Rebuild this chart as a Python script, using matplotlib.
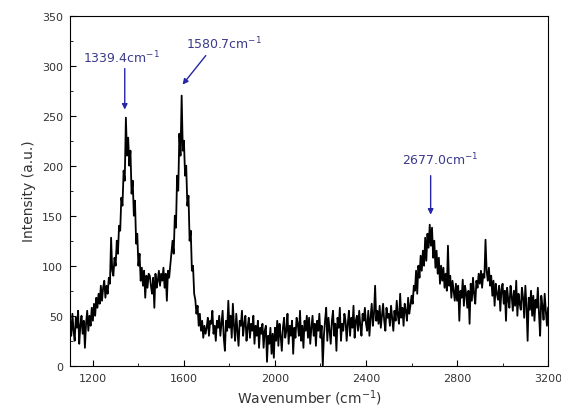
import numpy as np
import matplotlib
matplotlib.use("Agg")
import matplotlib.pyplot as plt
from matplotlib.ticker import MultipleLocator

# Raman spectrum, one value every 5 cm-1
wn_start, wn_step = 1100, 5
intensity = [
    45, 30, 52, 35, 25, 48, 38, 55, 22, 40,        # 1100
    50, 32, 45, 18, 42, 55, 35, 50, 40, 58,        # 1150
    45, 62, 50, 68, 58, 72, 62, 80, 65, 78,        # 1200
    85, 68, 80, 72, 88, 82, 128, 95, 90, 108,      # 1250
    100, 125, 112, 140, 135, 168, 160, 195, 185, 248,  # 1300
    210, 228, 200, 215, 172, 185, 150, 165, 122, 132,  # 1350
    100, 112, 85, 98, 80, 95, 68, 90, 78, 92,      # 1400
    90, 80, 72, 88, 58, 92, 78, 85, 95, 80,        # 1450
    92, 85, 98, 78, 92, 65, 95, 88, 100, 112,      # 1500
    125, 112, 150, 138, 190, 175, 232, 210, 270, 215,  # 1550
    225, 190, 200, 160, 170, 125, 135, 95, 100, 72,    # 1600
    66, 52, 60, 40, 52, 35, 45, 28, 40, 32,        # 1650
    38, 48, 30, 45, 42, 55, 32, 40, 25, 45,        # 1700
    38, 50, 30, 42, 55, 28, 15, 45, 35, 65,        # 1750
    38, 50, 28, 62, 40, 25, 52, 35, 20, 45,        # 1800
    40, 55, 30, 42, 50, 25, 38, 48, 28, 42,        # 1850
    35, 50, 22, 40, 30, 45, 18, 38, 32, 42,        # 1900
    18, 35, 40, 4, 30, 22, 38, 12, 32, 8,          # 1950
    38, 25, 45, 20, 42, 30, 15, 38, 48, 28,        # 2000
    35, 52, 22, 40, 30, 45, 12, 38, 28, 48,        # 2050
    42, 30, 55, 25, 40, 18, 45, 35, 50, 28,        # 2100
    48, 22, 38, 50, 30, 42, 20, 45, 35, 52,        # 2150
    28, 40, 0, 30, 45, 58, 25, 48, 35, 22,         # 2200
    45, 55, 30, 42, 15, 48, 38, 58, 25, 42,        # 2250
    35, 52, 45, 25, 42, 55, 30, 48, 38, 60,        # 2300
    28, 45, 50, 35, 55, 40, 30, 52, 45, 58,        # 2350
    42, 35, 55, 30, 48, 62, 40, 52, 80, 45,        # 2400
    55, 42, 60, 38, 50, 62, 45, 35, 58, 48,        # 2450
    52, 40, 60, 48, 35, 55, 45, 65, 50, 42,        # 2500
    72, 48, 58, 40, 62, 55, 45, 68, 52, 60,        # 2550
    70, 62, 80, 75, 95, 72, 100, 88, 110, 95,      # 2600
    115, 100, 128, 105, 132, 118, 141, 120, 138, 108,  # 2650
    125, 98, 115, 92, 108, 82, 100, 85, 98, 78,        # 2700
    92, 75, 120, 80, 90, 68, 85, 75, 65, 82,       # 2750
    65, 80, 45, 75, 68, 86, 60, 80, 72, 58,        # 2800
    75, 42, 82, 65, 88, 72, 62, 85, 78, 92,        # 2850
    82, 95, 78, 92, 88, 126, 95, 85, 98, 80,       # 2900
    90, 70, 85, 60, 82, 72, 66, 80, 55, 76,        # 2950
    82, 62, 75, 45, 78, 66, 58, 80, 70, 55,        # 3000
    75, 60, 85, 50, 72, 62, 56, 78, 68, 48,        # 3050
    80, 60, 25, 68, 56, 75, 50, 70, 45, 66,        # 3100
    58, 78, 52, 30, 70, 60, 46, 72, 55, 40,        # 3150
    58,                                            # 3200
]
wavenumber = wn_start + wn_step * np.arange(len(intensity))

# peak labels: text, text anchor, arrow tail, arrow head (data coords)
peak_labels = ["1339.4cm$^{-1}$", "1580.7cm$^{-1}$", "2677.0cm$^{-1}$"]
peak_text_xy = [(1327, 300), (1775, 314), (2727, 198)]
peak_arrow_tail = [(1340, 297), (1696, 310), (2684, 190)]
peak_arrow_head = [(1340, 256), (1594, 281), (2684, 151)]

fig, ax = plt.subplots(figsize=(5.61, 4.14), dpi=100)
fig.subplots_adjust(left=0.125, right=0.977, top=0.96, bottom=0.114)

ax.plot(wavenumber, intensity, color="black", lw=1.3)

ax.set_xlim(1100, 3200)
ax.set_ylim(0, 350)
ax.xaxis.set_major_locator(MultipleLocator(400))
ax.xaxis.set_minor_locator(MultipleLocator(200))
ax.yaxis.set_major_locator(MultipleLocator(50))
ax.yaxis.set_minor_locator(MultipleLocator(25))
ax.tick_params(which="both", direction="in", top=False, right=False,
               labelsize=8, labelcolor="#333333")
ax.tick_params(which="major", length=4, pad=5)
ax.tick_params(which="minor", length=2.5)
ax.set_xlabel("Wavenumber (cm$^{-1}$)", fontsize=10, color="#333333",
              labelpad=3)
ax.set_ylabel("Intensity (a.u.)", fontsize=10, color="#333333")

blue = "#2626a6"
for label, txy, tail, head in zip(peak_labels, peak_text_xy,
                                  peak_arrow_tail, peak_arrow_head):
    ax.text(txy[0], txy[1], label, ha="center", va="bottom",
            fontsize=9, color="#3a3a8c")
    ax.annotate("", xy=head, xytext=tail,
                arrowprops=dict(arrowstyle="-|>", color=blue, lw=1.0,
                                mutation_scale=8, shrinkA=0, shrinkB=0))

fig.savefig("out.png", dpi=100)
